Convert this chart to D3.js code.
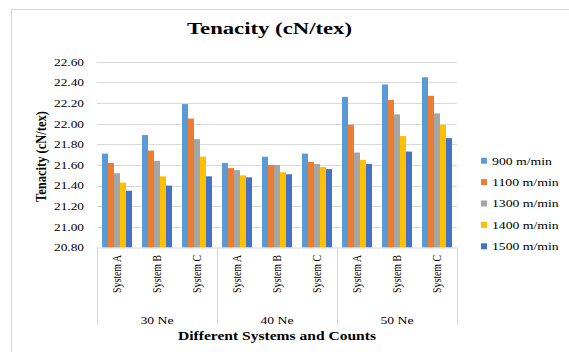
<!DOCTYPE html>
<html>
<head>
<meta charset="utf-8">
<script src="https://cdn.jsdelivr.net/npm/d3@7"></script>
<style>
  html, body { margin: 0; padding: 0; background: #fff; }
  svg { display: block; }
  text { font-family: "Liberation Serif", "Times New Roman", serif; fill: #000; }
</style>
</head>
<body>
<svg id="chart" width="569" height="352"></svg>
<script>
// Yarn counts (outer axis level) and spinning systems (inner level)
const counts = ["30 Ne", "40 Ne", "50 Ne"];
const systems = ["System A", "System B", "System C"];

// Delivery speeds (one series each)
const speeds = ["900 m/min", "1100 m/min", "1300 m/min", "1400 m/min", "1500 m/min"];
const speedColors = ["#5B9BD5", "#ED7D31", "#A5A5A5", "#FFC000", "#4472C4"];

// Tenacity per speed, ordered 30A,30B,30C,40A,40B,40C,50A,50B,50C
const tenacity900  = [21.71, 21.89, 22.19, 21.62, 21.68, 21.71, 22.26, 22.38, 22.45];
const tenacity1100 = [21.62, 21.74, 22.05, 21.57, 21.60, 21.63, 21.99, 22.23, 22.27];
const tenacity1300 = [21.52, 21.64, 21.85, 21.55, 21.60, 21.61, 21.72, 22.09, 22.10];
const tenacity1400 = [21.43, 21.49, 21.68, 21.50, 21.53, 21.58, 21.65, 21.88, 21.99];
const tenacity1500 = [21.35, 21.40, 21.49, 21.48, 21.51, 21.56, 21.61, 21.73, 21.86];
const seriesValues = [tenacity900, tenacity1100, tenacity1300, tenacity1400, tenacity1500];

// Y tick labels
const yTicks = [20.80, 21.00, 21.20, 21.40, 21.60, 21.80, 22.00, 22.20, 22.40, 22.60];

const serif = "Liberation Serif, Times New Roman, serif";
const svg = d3.select("#chart");

// Chart area frame
svg.append("rect")
  .attr("x", 11.5).attr("y", 9.5)
  .attr("width", 600).attr("height", 400)
  .attr("fill", "#fff").attr("stroke", "#d9d9d9").attr("stroke-width", 1);

const plot = { left: 97, right: 457, top: 61.8, bottom: 247.5 };

// Flat list of (count, system) categories
const categories = [];
counts.forEach(c => systems.forEach(s => categories.push(c + "|" + s)));

const x = d3.scaleBand().domain(categories).range([plot.left, plot.right]).padding(0);
const xInner = d3.scaleBand().domain(speeds).range([5, x.bandwidth() - 5]).padding(0);
const y = d3.scaleLinear().domain([20.8, 22.6]).range([plot.bottom, plot.top]);
const xGroup = d3.scaleBand().domain(counts).range([plot.left, plot.right]).padding(0);

// Gridlines
svg.append("g")
  .selectAll("line")
  .data(yTicks.slice(1))
  .join("line")
  .attr("x1", plot.left).attr("x2", plot.right)
  .attr("y1", d => Math.round(y(d)) + 0.5).attr("y2", d => Math.round(y(d)) + 0.5)
  .attr("stroke", "#d9d9d9").attr("stroke-width", 1);

// Y axis labels
const yAxis = d3.axisLeft(y).tickValues(yTicks).tickFormat(d3.format(".2f")).tickSize(0).tickPadding(0);
const yg = svg.append("g").attr("transform", `translate(84,0)`).call(yAxis)
  .attr("font-family", serif);
yg.select(".domain").remove();
yg.selectAll("text")
  .attr("font-size", 10.5)
  .style("font-family", serif)
  .attr("fill", "#404040")
  .attr("textLength", 30)
  .attr("lengthAdjust", "spacingAndGlyphs");

// Bars
const barData = [];
seriesValues.forEach((vals, si) => {
  vals.forEach((v, ci) => barData.push({ cat: categories[ci], speed: speeds[si], color: speedColors[si], value: v }));
});
svg.append("g")
  .selectAll("rect")
  .data(barData)
  .join("rect")
  .attr("x", d => x(d.cat) + xInner(d.speed))
  .attr("width", xInner.bandwidth())
  .attr("y", d => y(d.value))
  .attr("height", d => y(20.8) - y(d.value))
  .attr("fill", d => d.color);

// Category axis line
svg.append("line")
  .attr("x1", plot.left).attr("x2", plot.right)
  .attr("y1", plot.bottom + 0.5).attr("y2", plot.bottom + 0.5)
  .attr("stroke", "#d9d9d9");

// Group separators on the multi-level axis
svg.append("g")
  .selectAll("line")
  .data(counts.map(c => xGroup(c)).concat([plot.right]))
  .join("line")
  .attr("x1", d => d + 0.5).attr("x2", d => d + 0.5)
  .attr("y1", plot.bottom).attr("y2", 325)
  .attr("stroke", "#d9d9d9");

// System labels (rotated, widened glyphs)
svg.append("g")
  .selectAll("text")
  .data(categories)
  .join("text")
  .attr("transform", d => `translate(${x(d) + x.bandwidth() / 2},255) rotate(-90) scale(1,1.2)`)
  .attr("text-anchor", "end")
  .attr("dy", "0.35em")
  .attr("font-size", 10.5)
  .attr("fill", "#404040")
  .attr("textLength", 38)
  .attr("lengthAdjust", "spacingAndGlyphs")
  .text(d => d.split("|")[1]);

// Count labels
svg.append("g")
  .selectAll("text")
  .data(counts)
  .join("text")
  .attr("x", d => xGroup(d) + xGroup.bandwidth() / 2 - 16.5)
  .attr("y", 323.5)
  .attr("font-size", 11)
  .attr("fill", "#404040")
  .attr("textLength", 33)
  .attr("lengthAdjust", "spacingAndGlyphs")
  .text(d => d);

// Chart title
svg.append("text")
  .attr("x", 269.5 - 82.5).attr("y", 34)
  .attr("font-size", 17.5).attr("font-weight", "bold")
  .attr("textLength", 165).attr("lengthAdjust", "spacingAndGlyphs")
  .text("Tenacity (cN/tex)");

// X axis title
svg.append("text")
  .attr("x", 277 - 99).attr("y", 340)
  .attr("font-size", 13).attr("font-weight", "bold")
  .attr("textLength", 198).attr("lengthAdjust", "spacingAndGlyphs")
  .text("Different Systems and Counts");

// Y axis title
svg.append("text")
  .attr("transform", "translate(45.5,156.5) rotate(-90) scale(1,1.2)")
  .attr("text-anchor", "middle")
  .attr("font-size", 12.5).attr("font-weight", "bold")
  .text("Tenacity (cN/tex)");

// Legend
const legend = svg.append("g")
  .selectAll("g")
  .data(speeds)
  .join("g")
  .attr("transform", (d, i) => `translate(481,${160.7 + i * 21.4})`);
legend.append("rect")
  .attr("x", 0).attr("y", -3).attr("width", 6).attr("height", 6)
  .attr("fill", (d, i) => speedColors[i]);
legend.append("text")
  .attr("x", 11).attr("y", 0).attr("dy", "0.35em")
  .attr("font-size", 11).attr("fill", "#404040")
  .attr("textLength", d => d.length === 9 ? 60 : 66.7)
  .attr("lengthAdjust", "spacingAndGlyphs")
  .text(d => d);
</script>
</body>
</html>
